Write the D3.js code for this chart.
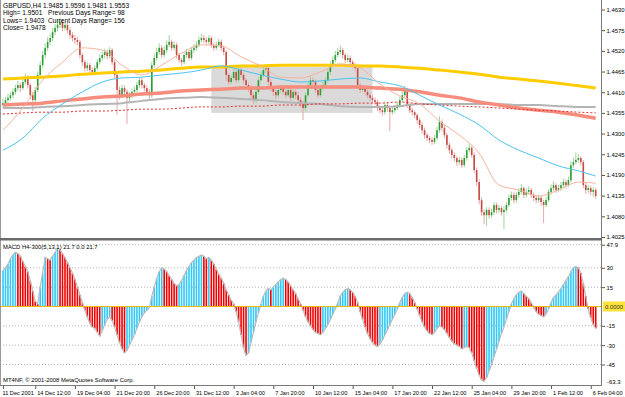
<!DOCTYPE html>
<html>
<head>
<meta charset="utf-8">
<script src="https://cdn.jsdelivr.net/npm/d3@7"></script>
<style>
  body { margin: 0; background: #fff; }
  svg { display: block; font-family: "Liberation Sans", Arial, sans-serif; }
</style>
</head>
<body>
<svg id="chart"></svg>
<script>
// GBPUSD H4 bars, 11 Dec 2001 .. 6 Feb 2002
const opens = [
  1.4376,1.4381,1.4389,1.4395,1.4402,1.4411,1.4421,1.4429,1.4421,1.4437,
  1.4448,1.4429,1.4402,1.4389,1.4416,1.4456,1.4482,1.4509,1.4528,1.4544,
  1.4554,1.4570,1.4581,1.4589,1.4597,1.4581,1.4589,1.4575,1.4562,1.4554,
  1.4549,1.4544,1.4509,1.4490,1.4474,1.4482,1.4469,1.4464,1.4474,1.4490,
  1.4501,1.4509,1.4517,1.4506,1.4522,1.4490,1.4456,1.4416,1.4402,1.4421,
  1.4411,1.4395,1.4402,1.4411,1.4416,1.4429,1.4442,1.4429,1.4421,1.4411,
  1.4402,1.4482,1.4501,1.4517,1.4528,1.4509,1.4522,1.4536,1.4544,1.4528,
  1.4536,1.4509,1.4496,1.4490,1.4509,1.4517,1.4501,1.4522,1.4528,1.4536,
  1.4549,1.4554,1.4549,1.4544,1.4554,1.4536,1.4528,1.4536,1.4544,1.4528,
  1.4517,1.4456,1.4437,1.4448,1.4464,1.4442,1.4469,1.4456,1.4442,1.4429,
  1.4421,1.4402,1.4389,1.4411,1.4442,1.4456,1.4469,1.4474,1.4437,1.4421,
  1.4411,1.4402,1.4416,1.4421,1.4411,1.4402,1.4416,1.4395,1.4411,1.4402,
  1.4389,1.4381,1.4368,1.4402,1.4429,1.4442,1.4437,1.4416,1.4402,1.4421,
  1.4429,1.4442,1.4464,1.4482,1.4496,1.4509,1.4517,1.4522,1.4509,1.4496,
  1.4501,1.4490,1.4482,1.4474,1.4429,1.4416,1.4421,1.4411,1.4402,1.4395,
  1.4389,1.4384,1.4368,1.4362,1.4357,1.4376,1.4368,1.4357,1.4362,1.4368,
  1.4376,1.4389,1.4402,1.4416,1.4376,1.4362,1.4357,1.4349,1.4336,1.4323,
  1.4309,1.4296,1.4288,1.4283,1.4278,1.4288,1.4309,1.4331,1.4315,1.4296,
  1.4270,1.4256,1.4243,1.4235,1.4224,1.4230,1.4216,1.4235,1.4256,1.4262,
  1.4243,1.4203,1.4171,1.4123,1.4091,1.4083,1.4097,1.4083,1.4091,1.4110,
  1.4097,1.4102,1.4091,1.4097,1.4110,1.4129,1.4137,1.4123,1.4137,1.4145,
  1.4155,1.4137,1.4145,1.4150,1.4137,1.4129,1.4123,1.4129,1.4118,1.4110,
  1.4123,1.4145,1.4155,1.4163,1.4150,1.4155,1.4163,1.4171,1.4163,1.4176,
  1.4216,1.4224,1.4230,1.4235,1.4224,1.4163,1.4150,1.4155,1.4145,1.4150
];
const highs = [
  1.4392,1.4398,1.4405,1.4410,1.4420,1.4430,1.4440,1.4436,1.4448,1.4460,
  1.4455,1.4435,1.4410,1.4425,1.4465,1.4492,1.4520,1.4540,1.4556,1.4566,
  1.4580,1.4592,1.4600,1.4608,1.4604,1.4598,1.4595,1.4582,1.4570,1.4562,
  1.4558,1.4550,1.4515,1.4496,1.4490,1.4488,1.4476,1.4482,1.4498,1.4510,
  1.4518,1.4526,1.4524,1.4530,1.4528,1.4496,1.4462,1.4425,1.4430,1.4428,
  1.4418,1.4410,1.4420,1.4425,1.4438,1.4450,1.4448,1.4435,1.4428,1.4418,
  1.4490,1.4512,1.4528,1.4540,1.4535,1.4532,1.4548,1.4562,1.4550,1.4545,
  1.4542,1.4515,1.4502,1.4516,1.4525,1.4524,1.4530,1.4538,1.4546,1.4558,
  1.4565,1.4562,1.4556,1.4562,1.4560,1.4542,1.4544,1.4552,1.4550,1.4534,
  1.4522,1.4462,1.4456,1.4472,1.4470,1.4478,1.4475,1.4462,1.4448,1.4436,
  1.4428,1.4410,1.4420,1.4450,1.4465,1.4480,1.4484,1.4480,1.4444,1.4428,
  1.4418,1.4425,1.4430,1.4428,1.4418,1.4424,1.4422,1.4420,1.4418,1.4410,
  1.4396,1.4388,1.4410,1.4438,1.4452,1.4450,1.4444,1.4422,1.4430,1.4438,
  1.4450,1.4472,1.4492,1.4506,1.4520,1.4528,1.4534,1.4528,1.4515,1.4510,
  1.4508,1.4496,1.4488,1.4480,1.4435,1.4430,1.4428,1.4418,1.4410,1.4402,
  1.4396,1.4390,1.4375,1.4370,1.4385,1.4382,1.4374,1.4370,1.4376,1.4385,
  1.4398,1.4412,1.4428,1.4422,1.4382,1.4368,1.4362,1.4355,1.4342,1.4330,
  1.4316,1.4302,1.4294,1.4290,1.4296,1.4318,1.4346,1.4338,1.4322,1.4302,
  1.4276,1.4262,1.4250,1.4240,1.4238,1.4236,1.4244,1.4265,1.4274,1.4268,
  1.4250,1.4210,1.4178,1.4130,1.4098,1.4105,1.4104,1.4100,1.4118,1.4116,
  1.4110,1.4108,1.4106,1.4118,1.4138,1.4146,1.4144,1.4145,1.4154,1.4166,
  1.4160,1.4154,1.4160,1.4156,1.4144,1.4136,1.4138,1.4134,1.4124,1.4132,
  1.4152,1.4165,1.4174,1.4168,1.4164,1.4172,1.4180,1.4178,1.4186,1.4226,
  1.4236,1.4250,1.4246,1.4240,1.4230,1.4170,1.4164,1.4162,1.4158,1.4156
];
const lows = [
  1.4368,1.4372,1.4380,1.4388,1.4394,1.4404,1.4412,1.4410,1.4415,1.4430,
  1.4420,1.4392,1.4360,1.4380,1.4410,1.4448,1.4475,1.4500,1.4520,1.4536,
  1.4545,1.4562,1.4572,1.4580,1.4572,1.4574,1.4566,1.4552,1.4545,1.4538,
  1.4535,1.4500,1.4480,1.4465,1.4466,1.4460,1.4455,1.4458,1.4468,1.4484,
  1.4494,1.4500,1.4498,1.4500,1.4482,1.4448,1.4350,1.4390,1.4395,1.4400,
  1.4325,1.4385,1.4395,1.4404,1.4410,1.4422,1.4420,1.4412,1.4402,1.4392,
  1.4395,1.4475,1.4494,1.4510,1.4500,1.4502,1.4515,1.4530,1.4520,1.4522,
  1.4500,1.4488,1.4480,1.4484,1.4502,1.4494,1.4496,1.4515,1.4520,1.4530,
  1.4542,1.4540,1.4536,1.4538,1.4528,1.4520,1.4522,1.4530,1.4520,1.4508,
  1.4440,1.4428,1.4430,1.4440,1.4434,1.4436,1.4448,1.4432,1.4420,1.4410,
  1.4392,1.4378,1.4380,1.4405,1.4436,1.4450,1.4460,1.4428,1.4412,1.4400,
  1.4392,1.4396,1.4408,1.4402,1.4394,1.4396,1.4386,1.4388,1.4392,1.4380,
  1.4370,1.4336,1.4360,1.4396,1.4422,1.4428,1.4408,1.4394,1.4396,1.4414,
  1.4422,1.4436,1.4456,1.4476,1.4490,1.4502,1.4510,1.4500,1.4488,1.4490,
  1.4482,1.4474,1.4465,1.4420,1.4408,1.4410,1.4402,1.4394,1.4386,1.4380,
  1.4375,1.4360,1.4354,1.4348,1.4350,1.4358,1.4306,1.4350,1.4355,1.4362,
  1.4370,1.4382,1.4396,1.4368,1.4354,1.4348,1.4340,1.4326,1.4314,1.4300,
  1.4286,1.4280,1.4274,1.4270,1.4272,1.4282,1.4302,1.4306,1.4288,1.4260,
  1.4246,1.4234,1.4226,1.4214,1.4216,1.4208,1.4210,1.4228,1.4250,1.4236,
  1.4195,1.4160,1.4112,1.4080,1.4060,1.4055,1.4074,1.4076,1.4084,1.4088,
  1.4090,1.4082,1.4046,1.4090,1.4104,1.4122,1.4115,1.4116,1.4130,1.4138,
  1.4128,1.4130,1.4138,1.4128,1.4120,1.4114,1.4116,1.4108,1.4062,1.4104,
  1.4118,1.4138,1.4148,1.4142,1.4144,1.4148,1.4156,1.4154,1.4158,1.4170,
  1.4208,1.4218,1.4222,1.4215,1.4155,1.4140,1.4142,1.4136,1.4132,1.4126
];
const closes = [
  1.4381,1.4389,1.4395,1.4402,1.4411,1.4421,1.4429,1.4421,1.4437,1.4448,
  1.4429,1.4402,1.4389,1.4416,1.4456,1.4482,1.4509,1.4528,1.4544,1.4554,
  1.4570,1.4581,1.4589,1.4597,1.4581,1.4589,1.4575,1.4562,1.4554,1.4549,
  1.4544,1.4509,1.4490,1.4474,1.4482,1.4469,1.4464,1.4474,1.4490,1.4501,
  1.4509,1.4517,1.4506,1.4522,1.4490,1.4456,1.4416,1.4402,1.4421,1.4411,
  1.4395,1.4402,1.4411,1.4416,1.4429,1.4442,1.4429,1.4421,1.4411,1.4402,
  1.4482,1.4501,1.4517,1.4528,1.4509,1.4522,1.4536,1.4544,1.4528,1.4536,
  1.4509,1.4496,1.4490,1.4509,1.4517,1.4501,1.4522,1.4528,1.4536,1.4549,
  1.4554,1.4549,1.4544,1.4554,1.4536,1.4528,1.4536,1.4544,1.4528,1.4517,
  1.4456,1.4437,1.4448,1.4464,1.4442,1.4469,1.4456,1.4442,1.4429,1.4421,
  1.4402,1.4389,1.4411,1.4442,1.4456,1.4469,1.4474,1.4437,1.4421,1.4411,
  1.4402,1.4416,1.4421,1.4411,1.4402,1.4416,1.4395,1.4411,1.4402,1.4389,
  1.4381,1.4368,1.4402,1.4429,1.4442,1.4437,1.4416,1.4402,1.4421,1.4429,
  1.4442,1.4464,1.4482,1.4496,1.4509,1.4517,1.4522,1.4509,1.4496,1.4501,
  1.4490,1.4482,1.4474,1.4429,1.4416,1.4421,1.4411,1.4402,1.4395,1.4389,
  1.4384,1.4368,1.4362,1.4357,1.4376,1.4368,1.4357,1.4362,1.4368,1.4376,
  1.4389,1.4402,1.4416,1.4376,1.4362,1.4357,1.4349,1.4336,1.4323,1.4309,
  1.4296,1.4288,1.4283,1.4278,1.4288,1.4309,1.4331,1.4315,1.4296,1.4270,
  1.4256,1.4243,1.4235,1.4224,1.4230,1.4216,1.4235,1.4256,1.4262,1.4243,
  1.4203,1.4171,1.4123,1.4091,1.4083,1.4097,1.4083,1.4091,1.4110,1.4097,
  1.4102,1.4091,1.4097,1.4110,1.4129,1.4137,1.4123,1.4137,1.4145,1.4155,
  1.4137,1.4145,1.4150,1.4137,1.4129,1.4123,1.4129,1.4118,1.4110,1.4123,
  1.4145,1.4155,1.4163,1.4150,1.4155,1.4163,1.4171,1.4163,1.4176,1.4216,
  1.4224,1.4230,1.4235,1.4224,1.4163,1.4150,1.4155,1.4145,1.4150,1.4134
];

// moving averages, read every 8 bars
const maBars = [0,8,16,24,32,40,48,56,64,72,80,88,96,104,112,120,128,136,144,152,160,168,176,184,192,200,208,216,224,232,239];
const maYellow = [1.4445,1.4448,1.4450,1.4453,1.4458,1.4461,1.4464,1.4466,1.4469,1.4474,1.4477,1.4477,1.4480,1.4480,1.4482,1.4482,1.4482,1.4482,1.4480,1.4480,1.4477,1.4474,1.4469,1.4464,1.4458,1.4450,1.4445,1.4440,1.4434,1.4427,1.4421];
const maSalmon = [1.4376,1.4379,1.4381,1.4387,1.4392,1.4397,1.4400,1.4405,1.4408,1.4413,1.4416,1.4418,1.4421,1.4421,1.4424,1.4424,1.4424,1.4424,1.4424,1.4421,1.4418,1.4411,1.4402,1.4395,1.4384,1.4376,1.4368,1.4362,1.4357,1.4349,1.4341];
const maGray = [1.4368,1.4368,1.4371,1.4373,1.4376,1.4379,1.4381,1.4387,1.4392,1.4395,1.4397,1.4395,1.4392,1.4389,1.4384,1.4381,1.4379,1.4373,1.4371,1.4371,1.4373,1.4379,1.4379,1.4379,1.4379,1.4379,1.4376,1.4376,1.4373,1.4371,1.4371];
const maDashed = [1.4352,1.4355,1.4357,1.4357,1.4360,1.4360,1.4362,1.4365,1.4365,1.4368,1.4371,1.4371,1.4373,1.4373,1.4376,1.4376,1.4379,1.4379,1.4381,1.4381,1.4384,1.4379,1.4376,1.4373,1.4371,1.4368,1.4365,1.4362,1.4360,1.4357,1.4355];
const maBlue = [1.4256,1.4288,1.4341,1.4379,1.4411,1.4437,1.4448,1.4450,1.4456,1.4461,1.4469,1.4480,1.4469,1.4456,1.4445,1.4437,1.4440,1.4445,1.4448,1.4437,1.4427,1.4402,1.4376,1.4352,1.4323,1.4283,1.4256,1.4235,1.4214,1.4201,1.4187];
const maFast = [1.4309,1.4368,1.4442,1.4490,1.4528,1.4522,1.4482,1.4456,1.4482,1.4514,1.4536,1.4533,1.4504,1.4480,1.4450,1.4448,1.4464,1.4485,1.4474,1.4432,1.4400,1.4379,1.4333,1.4296,1.4248,1.4163,1.4150,1.4134,1.4150,1.4171,1.4168];

// rectangle object on the chart
const boxBars = [84, 149];
const boxPrices = [1.4477, 1.4355];

// MACD H4-300(5,13,1) histogram
const macd = [
  28,30,33,37,40,42,41,39,35,31,
  27,20,12,4,2,15,26,38,37,36,
  39,42,45,44,41,38,34,30,26,21,
  15,9,3,-3,-8,-13,-16,-17,-20,-23,
  -19,-14,-10,-8,-11,-16,-22,-28,-33,-36,
  -34,-30,-26,-22,-17,-12,-8,-5,-3,-1,
  8,15,22,27,30,29,27,24,21,18,
  16,17,20,24,28,31,34,36,38,39,
  40,39,37,38,36,33,29,25,22,18,
  13,9,5,2,-4,-12,-22,-32,-38,-36,
  -28,-20,-12,-5,2,8,12,14,13,15,
  17,19,21,22,21,19,16,13,10,6,
  2,-3,-8,-12,-15,-18,-20,-21,-22,-20,
  -17,-14,-10,-6,-2,3,8,11,13,14,
  13,11,8,3,-4,-10,-16,-21,-25,-28,
  -30,-31,-29,-26,-22,-18,-14,-10,-6,-2,
  3,7,10,11,10,7,3,-2,-7,-12,
  -16,-19,-21,-22,-20,-17,-15,-16,-18,-21,
  -24,-27,-29,-30,-31,-33,-32,-31,-32,-36,
  -42,-48,-53,-57,-58,-55,-50,-45,-39,-33,
  -27,-21,-16,-10,-4,2,6,9,11,12,
  10,8,6,3,-1,-4,-6,-7,-8,-6,
  -2,3,7,9,11,14,17,20,23,27,
  30,31,30,26,18,8,-2,-9,-14,-17
];

const priceTicks = [1.4630,1.4575,1.4520,1.4465,1.4410,1.4355,1.4300,1.4245,1.4190,1.4135,1.4080,1.4025];
const macdTicks = [47.9, 30, 15, -15, -30, -45];
const macdGrid = [47.9, 30, 15, -15, -30, -45];
const timeBars = [0,13,29,45,61,77,93,109,125,141,157,173,189,205,221,237];
const timeLabels = ["11 Dec 2001","14 Dec 12:00","19 Dec 04:00","21 Dec 20:00","26 Dec 20:00","31 Dec 12:00","3 Jan 04:00","7 Jan 20:00","10 Jan 12:00","15 Jan 04:00","17 Jan 20:00","22 Jan 12:00","25 Jan 04:00","29 Jan 20:00","1 Feb 12:00","6 Feb 04:00"];

const width = 625, height = 397;
const plotRight = 601;
const priceBottom = 238;
const macdTop = 241, macdBottom = 385;

const svg = d3.select("#chart").attr("width", width).attr("height", height);
svg.append("rect").attr("width", width).attr("height", height).attr("fill", "#fff");

const x = d3.scaleLinear().domain([0, closes.length - 1]).range([3, 595.7]);
const y = d3.scaleLinear().domain([1.4025, 1.4630]).range([237, 9.5]);
const ym = d3.scaleLinear().domain([-60.9, 50]).range([macdBottom, macdTop + 1]);

svg.append("clipPath").attr("id", "pclip")
  .append("rect").attr("x", 0).attr("y", 0).attr("width", plotRight).attr("height", priceBottom);
const price = svg.append("g").attr("clip-path", "url(#pclip)");

// gray rectangle object
price.append("rect")
  .attr("x", x(boxBars[0])).attr("y", y(boxPrices[0]))
  .attr("width", x(boxBars[1]) - x(boxBars[0]))
  .attr("height", y(boxPrices[1]) - y(boxPrices[0]))
  .attr("fill", "#dadada");

// candles
const bars = closes.map((c, i) => ({i, o: opens[i], h: highs[i], l: lows[i], c}));
price.selectAll(".wick").data(bars).join("line")
  .attr("x1", d => x(d.i)).attr("x2", d => x(d.i))
  .attr("y1", d => y(d.h)).attr("y2", d => y(d.l))
  .attr("stroke", d => d.c >= d.o ? "#9fd49f" : "#e6a8a8")
  .attr("stroke-width", 1);
price.selectAll(".body").data(bars).join("rect")
  .attr("x", d => x(d.i) - 0.8).attr("width", 1.6)
  .attr("y", d => y(Math.max(d.o, d.c)))
  .attr("height", d => Math.max(1, Math.abs(y(d.o) - y(d.c))))
  .attr("fill", d => d.c >= d.o ? "#2e9e32" : "#c64b45");

// indicator lines
const maLine = d3.line().x(d => x(d[0])).y(d => y(d[1])).curve(d3.curveMonotoneX);
const lines = [
  {v: maGray, color: "#b4b4b4", w: 2},
  {v: maSalmon, color: "#f58c7c", w: 3.5},
  {v: maYellow, color: "#ffcc00", w: 3},
  {v: maDashed, color: "#e62e2e", w: 1, dash: "2,2"},
  {v: maBlue, color: "#4cc3ee", w: 1},
  {v: maFast, color: "#f6b49c", w: 1}
];
lines.forEach(l => {
  price.append("path")
    .datum(maBars.map((b, k) => [b, l.v[k]]))
    .attr("d", maLine)
    .attr("fill", "none")
    .attr("stroke", l.color)
    .attr("stroke-width", l.w)
    .attr("stroke-dasharray", l.dash || null);
});

// MACD grid + zero line
svg.selectAll(".mgrid").data(macdGrid).join("line")
  .attr("x1", 0).attr("x2", plotRight)
  .attr("y1", d => ym(d)).attr("y2", d => ym(d))
  .attr("stroke", "#b0b0b0").attr("stroke-dasharray", "1,2");

svg.selectAll(".hist").data(macd).join("rect")
  .attr("x", (d, i) => x(i) - 0.8).attr("width", 1.6)
  .attr("y", d => Math.min(ym(d), ym(0)))
  .attr("height", d => Math.abs(ym(d) - ym(0)))
  .attr("fill", (d, i) => (i === 0 || d >= macd[i - 1]) ? "#33c8f5" : "#f00000");

svg.append("path")
  .datum(macd)
  .attr("d", d3.line().x((d, i) => x(i)).y(d => ym(d)))
  .attr("fill", "none").attr("stroke", "#bcbcbc").attr("stroke-width", 1.2);

svg.append("line")
  .attr("x1", 0).attr("x2", plotRight).attr("y1", ym(0)).attr("y2", ym(0))
  .attr("stroke", "#f2b600").attr("stroke-width", 1);

// frame
svg.append("line").attr("x1", plotRight + 0.5).attr("x2", plotRight + 0.5).attr("y1", 0).attr("y2", macdBottom)
  .attr("stroke", "#7a7a7a");
svg.append("line").attr("x1", 0.5).attr("x2", 0.5).attr("y1", 0).attr("y2", macdBottom)
  .attr("stroke", "#9a9a9a");
svg.append("rect").attr("x", 0).attr("y", priceBottom).attr("width", plotRight + 1).attr("height", 2.5)
  .attr("fill", "#6a6a6a");
svg.append("line").attr("x1", 0).attr("x2", plotRight + 1).attr("y1", macdBottom + 0.5).attr("y2", macdBottom + 0.5)
  .attr("stroke", "#7a7a7a");

// axes
const fs = 5.9;
const pAxis = svg.append("g").attr("transform", `translate(${plotRight + 1},0)`)
  .call(d3.axisRight(y).tickValues(priceTicks).tickSize(3).tickPadding(1.5).tickFormat(d3.format(".4f")));
pAxis.select(".domain").remove();
pAxis.selectAll("text").attr("font-size", fs).attr("font-family", "Liberation Sans, Arial, sans-serif").attr("fill", "#000");
pAxis.selectAll("line").attr("stroke", "#555");

const mAxis = svg.append("g").attr("transform", `translate(${plotRight + 1},0)`)
  .call(d3.axisRight(ym).tickValues(macdTicks).tickSize(3).tickPadding(1.5).tickFormat(d => d));
mAxis.select(".domain").remove();
mAxis.selectAll("text").attr("font-size", fs).attr("font-family", "Liberation Sans, Arial, sans-serif").attr("fill", "#000");
mAxis.selectAll("line").attr("stroke", "#555");

svg.append("text").attr("x", plotRight + 6).attr("y", 384).attr("font-size", fs).text("-63.3");
svg.append("rect").attr("x", plotRight + 2).attr("y", ym(0) - 5).attr("width", 23).attr("height", 10).attr("fill", "#ffe23a");
svg.append("text").attr("x", plotRight + 4).attr("y", ym(0) + 2.2).attr("font-size", fs).attr("fill", "#333").text("0.0000");

const tAxis = svg.append("g").attr("transform", `translate(0,${macdBottom + 1})`)
  .call(d3.axisBottom(x).tickValues(timeBars).tickSize(3).tickPadding(2).tickFormat((d, k) => timeLabels[k]));
tAxis.select(".domain").remove();
tAxis.selectAll("line").attr("stroke", "#555");
tAxis.selectAll("text").attr("font-size", 5.6).attr("font-family", "Liberation Sans, Arial, sans-serif")
  .attr("fill", "#000").attr("text-anchor", "start").attr("x", (d, k) => k === 0 ? -1 : 1.5);

// texts
const info = svg.append("g").attr("font-size", 6.6).attr("fill", "#000");
info.append("text").attr("x", 3).attr("y", 7.5).text("GBPUSD,H4  1.9485 1.9596 1.9481 1.9553");
info.append("text").attr("x", 3).attr("y", 15).text("High= 1.9501");
info.append("text").attr("x", 48).attr("y", 15).text("Previous Days Range= 98");
info.append("text").attr("x", 3).attr("y", 22.5).text("Lows= 1.9403");
info.append("text").attr("x", 48).attr("y", 22.5).text("Current Days Range= 156");
info.append("text").attr("x", 3).attr("y", 30).text("Close= 1.9478");

svg.append("text").attr("x", 3).attr("y", 249).attr("font-size", fs).text("MACD H4-300(5,13,1) 21.7 0.0 21.7");
svg.append("text").attr("x", 3).attr("y", 382).attr("font-size", fs).text("MT4NF, \u00a9 2001-2008 MetaQuotes Software Corp.");
</script>
</body>
</html>
